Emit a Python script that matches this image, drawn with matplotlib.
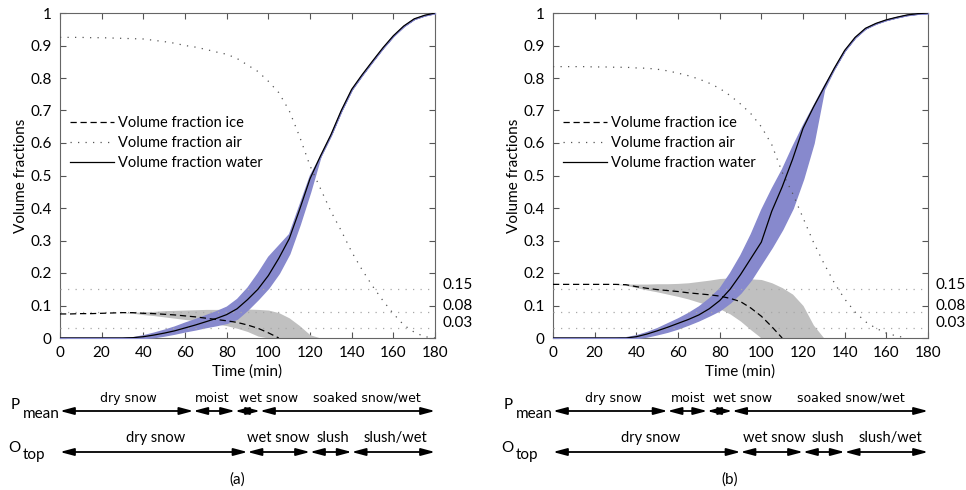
import numpy as np
import matplotlib.pyplot as plt

plt.rcParams['font.family'] = ['Lato', 'DejaVu Sans']
plt.rcParams['font.size'] = 11

nan = np.nan

# time (min)
t = [0, 5, 10, 15, 20, 25, 30, 35, 40, 45, 50, 55, 60, 65, 70, 75, 80, 85, 90,
     95, 100, 105, 110, 115, 120, 125, 130, 135, 140, 145, 150, 155, 160, 165,
     170, 175, 180]

# ---- panel (a)
a_water = [0, 0, 0, 0, 0, 0, 0, 0.001, 0.004, 0.009, 0.015, 0.022, 0.031, 0.040,
           0.050, 0.060, 0.072, 0.090, 0.118, 0.150, 0.192, 0.245, 0.305, 0.395,
           0.49, 0.56, 0.625, 0.70, 0.765, 0.81, 0.852, 0.893, 0.93, 0.96, 0.982,
           0.993, 1.0]
a_water_lo = [0, 0, 0, 0, 0, 0, 0, 0, 0, 0.003, 0.008, 0.014, 0.021, 0.027, 0.034,
              0.040, 0.047, 0.060, 0.088, 0.12, 0.155, 0.20, 0.26, 0.35, 0.45, 0.56,
              0.625, 0.70, 0.765, 0.81, 0.852, 0.893, 0.93, 0.96, 0.982, 0.993, 1.0]
a_water_hi = [0, 0, 0, 0, 0, 0, 0, 0.002, 0.008, 0.016, 0.025, 0.035, 0.047, 0.058,
              0.070, 0.082, 0.096, 0.12, 0.155, 0.2, 0.25, 0.285, 0.32, 0.41, 0.50,
              0.56, 0.625, 0.70, 0.765, 0.81, 0.852, 0.893, 0.93, 0.96, 0.982,
              0.993, 1.0]
a_ice = [0.074, 0.074, 0.075, 0.075, 0.076, 0.077, 0.078, 0.078, 0.076, 0.075,
         0.073, 0.071, 0.068, 0.065, 0.061, 0.057, 0.053, 0.048, 0.040, 0.030,
         0.016, 0.0, nan, nan, nan, nan, nan, nan, nan, nan, nan, nan, nan, nan,
         nan, nan, nan]
a_ice_lo = [0.074, 0.074, 0.075, 0.075, 0.076, 0.077, 0.078, 0.076, 0.072, 0.069,
            0.065, 0.061, 0.057, 0.053, 0.048, 0.043, 0.038, 0.030, 0.020, 0.006,
            0, 0, 0, 0, 0, 0, 0, 0, 0, 0, 0, 0, 0, 0, 0, 0, 0]
a_ice_hi = [0.074, 0.074, 0.075, 0.075, 0.076, 0.077, 0.078, 0.079, 0.080, 0.082,
            0.084, 0.085, 0.086, 0.087, 0.088, 0.088, 0.089, 0.089, 0.089, 0.088,
            0.086, 0.078, 0.062, 0.038, 0.010, 0, 0, 0, 0, 0, 0, 0, 0, 0, 0, 0, 0]
a_air = [0.925, 0.925, 0.925, 0.924, 0.924, 0.923, 0.922, 0.921, 0.92, 0.916,
         0.912, 0.907, 0.90, 0.895, 0.888, 0.88, 0.873, 0.86, 0.84, 0.82, 0.79,
         0.755, 0.70, 0.62, 0.53, 0.46, 0.39, 0.33, 0.265, 0.21, 0.16, 0.115,
         0.075, 0.04, 0.018, 0.004, 0.0]

# ---- panel (b)
b_water = [0, 0, 0, 0, 0, 0, 0, 0, 0.004, 0.012, 0.022, 0.033, 0.045, 0.057,
           0.071, 0.09, 0.115, 0.15, 0.195, 0.245, 0.295, 0.39, 0.465, 0.55, 0.645,
           0.71, 0.77, 0.83, 0.885, 0.925, 0.953, 0.968, 0.979, 0.987, 0.994,
           0.998, 1.0]
b_water_lo = [0, 0, 0, 0, 0, 0, 0, 0, 0, 0.005, 0.012, 0.02, 0.03, 0.042, 0.055,
              0.07, 0.086, 0.11, 0.14, 0.18, 0.23, 0.28, 0.335, 0.40, 0.49, 0.60,
              0.765, 0.83, 0.885, 0.925, 0.953, 0.968, 0.979, 0.987, 0.994, 0.998,
              1.0]
b_water_hi = [0, 0, 0, 0, 0, 0, 0, 0.002, 0.008, 0.018, 0.03, 0.045, 0.06, 0.077,
              0.097, 0.122, 0.153, 0.2, 0.255, 0.32, 0.395, 0.46, 0.52, 0.59, 0.655,
              0.715, 0.775, 0.83, 0.885, 0.925, 0.953, 0.968, 0.979, 0.987, 0.994,
              0.998, 1.0]
b_ice = [0.165, 0.165, 0.165, 0.165, 0.165, 0.165, 0.165, 0.164, 0.158, 0.153,
         0.149, 0.146, 0.143, 0.139, 0.136, 0.133, 0.129, 0.122, 0.112, 0.092,
         0.067, 0.035, 0.0, nan, nan, nan, nan, nan, nan, nan, nan, nan, nan, nan,
         nan, nan, nan]
b_ice_lo = [0.165, 0.165, 0.165, 0.165, 0.165, 0.165, 0.165, 0.162, 0.155, 0.148,
            0.142, 0.135, 0.128, 0.12, 0.11, 0.10, 0.09, 0.074, 0.052, 0.025, 0,
            0, 0, 0, 0, 0, 0, 0, 0, 0, 0, 0, 0, 0, 0, 0, 0]
b_ice_hi = [0.165, 0.165, 0.165, 0.165, 0.165, 0.165, 0.165, 0.166, 0.166, 0.166,
            0.167, 0.167, 0.168, 0.17, 0.174, 0.178, 0.183, 0.185, 0.184, 0.182,
            0.18, 0.17, 0.155, 0.135, 0.10, 0.04, 0, 0, 0, 0, 0, 0, 0, 0, 0, 0, 0]
b_air = [0.835, 0.835, 0.835, 0.835, 0.834, 0.834, 0.833, 0.833, 0.831, 0.83,
         0.827, 0.822, 0.815, 0.807, 0.797, 0.784, 0.768, 0.746, 0.72, 0.69, 0.65,
         0.595, 0.51, 0.445, 0.37, 0.295, 0.23, 0.17, 0.12, 0.08, 0.05, 0.03,
         0.015, 0.006, 0.0, nan, nan]

# thresholds
thresholds = [0.15, 0.08, 0.03]
threshold_labels = ['0.15', '0.08', '0.03']
threshold_label_y = [0.163, 0.098, 0.047]

# phase classification bars
a_p_edges = [0, 64, 84, 96, 180]
a_p_text = ['dry snow', 'moist', 'wet snow', 'soaked snow/wet']
a_p_text_x = [33, 73, 100, 147.5]
a_o_edges = [0, 90, 120, 140, 180]
a_o_text = ['dry snow', 'wet snow', 'slush', 'slush/wet']
a_o_text_x = [46, 105, 131, 161]

b_p_edges = [0, 55, 74, 86, 180]
b_p_text = ['dry snow', 'moist', 'wet snow', 'soaked snow/wet']
b_p_text_x = [29, 65, 91, 143]
b_o_edges = [0, 90, 120, 140, 180]
b_o_text = ['dry snow', 'wet snow', 'slush', 'slush/wet']
b_o_text_x = [47, 106, 132, 162]

blue = '#8789cd'
grey = '#c0c0c0'

fig = plt.figure(figsize=(9.66, 4.9), dpi=100)


def panel(x0, water, wlo, whi, ice, ilo, ihi, air,
          p_edges, p_text, p_x, o_edges, o_text, o_x, letter):
    ax = fig.add_axes([x0 / 966, 152 / 490, 375 / 966, 325 / 490])
    ax.fill_between(t, ilo, ihi, color=grey, lw=0, zorder=2)
    ax.fill_between(t, wlo, whi, facecolor=blue, edgecolor=blue, lw=1.2, zorder=3)
    for th in thresholds:
        ax.axhline(th, color='#a8a8a8', lw=0.9, ls=(0, (1, 5)), zorder=4)
    ax.plot(t, ice, color='k', lw=0.9, ls=(0, (5, 3)), zorder=5,
            label='Volume fraction ice')
    ax.plot(t, air, color='#555555', lw=0.9, ls=(0, (1, 5)), zorder=5,
            label='Volume fraction air')
    ax.plot(t, water, color='k', lw=0.9, zorder=6, label='Volume fraction water')
    ax.set_xlim(0, 180)
    ax.set_ylim(0, 1)
    ax.set_xticks(range(0, 181, 20))
    ax.set_yticks(np.arange(0, 1.01, 0.1))
    ax.set_yticklabels(['0', '0.1', '0.2', '0.3', '0.4', '0.5', '0.6', '0.7',
                        '0.8', '0.9', '1'])
    ax.tick_params(direction='in', top=True, right=True, length=4,
                   color='#555555', pad=6, labelsize=11)
    for s in ax.spines.values():
        s.set_color('#666666')
    ax.set_xlabel('Time (min)', fontsize=11, labelpad=3)
    ax.set_ylabel('Volume fractions', fontsize=11, labelpad=2)
    for y, lab in zip(threshold_label_y, threshold_labels):
        ax.text(1.02, y, lab, transform=ax.get_yaxis_transform(),
                va='center', ha='left', fontsize=11)
    ax.legend(loc='upper left', bbox_to_anchor=(0.0, 0.715), frameon=False,
              fontsize=10.5, handlelength=3.0, handletextpad=0.3,
              labelspacing=0.42, borderaxespad=0.3)

    # classification arrows below
    ab = fig.add_axes([x0 / 966, 0, 375 / 966, 110 / 490])
    ab.set_xlim(0, 180)
    ab.set_ylim(490, 380)
    ab.axis('off')
    arrow = dict(arrowstyle='<|-|>,head_length=0.75,head_width=0.2', color='k',
                 lw=1.3, shrinkA=0, shrinkB=0)
    for e0, e1 in zip(p_edges[:-1], p_edges[1:]):
        ab.annotate('', xy=(e1, 411), xytext=(e0, 411), arrowprops=arrow)
    for e0, e1 in zip(o_edges[:-1], o_edges[1:]):
        ab.annotate('', xy=(e1, 452), xytext=(e0, 452), arrowprops=arrow)
    for x, lab in zip(p_x, p_text):
        ab.text(x, 398, lab, ha='center', va='center', fontsize=9,
                family=['DejaVu Sans'], color='k')
    for x, lab in zip(o_x, o_text):
        ab.text(x, 438, lab, ha='center', va='center', fontsize=10.5)
    ab.text(-23.5, 405, 'P', ha='left', va='center', fontsize=11, clip_on=False)
    ab.text(-18, 414, 'mean', ha='left', va='center', fontsize=11, clip_on=False)
    ab.text(-25, 448, 'O', ha='left', va='center', fontsize=11, clip_on=False)
    ab.text(-18, 455, 'top', ha='left', va='center', fontsize=11, clip_on=False)
    ab.text(85, 480, letter, ha='center', va='center', fontsize=11)
    return ax


panel(60, a_water, a_water_lo, a_water_hi, a_ice, a_ice_lo, a_ice_hi, a_air,
      a_p_edges, a_p_text, a_p_text_x, a_o_edges, a_o_text, a_o_text_x, '(a)')
panel(553, b_water, b_water_lo, b_water_hi, b_ice, b_ice_lo, b_ice_hi, b_air,
      b_p_edges, b_p_text, b_p_text_x, b_o_edges, b_o_text, b_o_text_x, '(b)')

fig.savefig('out.png', dpi=100)
